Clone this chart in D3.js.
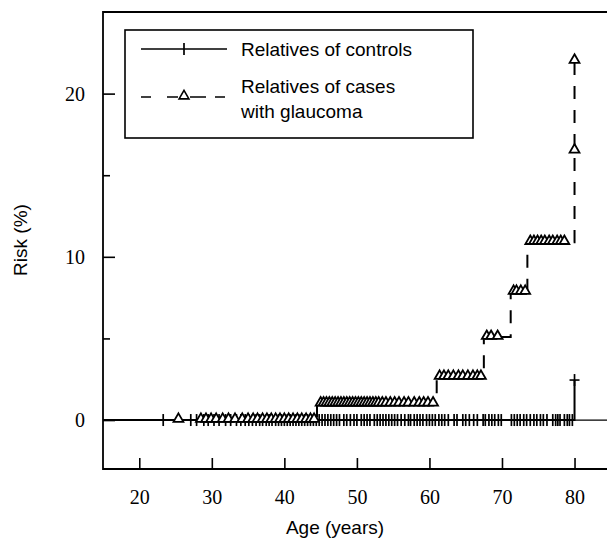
<!DOCTYPE html>
<html>
<head>
<meta charset="utf-8">
<script src="https://cdn.jsdelivr.net/npm/d3@7"></script>
<style>
  html, body { margin: 0; padding: 0; background: #fff; }
  svg { display: block; }
</style>
</head>
<body>
<svg id="chart" width="607" height="543"></svg>
<script>
// Cumulative risk of glaucoma by age (Kaplan-Meier style steps)
const xTicks = [20, 30, 40, 50, 60, 70, 80];
const yTicks = [0, 10, 20];
const yMinorTicks = [5, 15];

// Step curve corner points [age, risk %]
const controlSteps = [[15, 0], [80, 0], [80, 2.45]];
const caseSteps = [
  [25, 0], [44.5, 0], [44.5, 1.0], [61, 1.0], [61, 2.63], [67.5, 2.63],
  [67.5, 5.08], [71.2, 5.08], [71.2, 7.84], [73.5, 7.84], [73.5, 10.9],
  [80, 10.9], [80, 22.0]
];

// Censored observations, relatives of controls (all at 0 % until 80)
const controlCensorAges = [
  23.3, 27.1, 27.9, 28.9, 29.5, 30.3, 31.0, 31.9, 32.6, 33.4, 34.0, 34.6,
  35.1, 35.6, 36.1, 36.6, 37.0, 37.5, 37.9, 38.3, 38.8, 39.2, 39.6, 40.0,
  40.4, 40.8, 41.2, 41.6, 42.0, 42.4, 42.8, 43.2, 43.6, 44.0, 44.4, 44.8,
  45.2, 45.6, 46.0, 46.4, 46.8, 47.2, 47.6, 48.2, 48.6, 49.1, 49.6, 50.0,
  50.6, 51.0, 51.4, 51.8, 52.4, 52.8, 53.2, 53.6, 54.0, 54.4, 54.8, 55.2,
  55.6, 56.1, 56.6, 57.1, 57.4, 57.9, 58.3, 58.7, 59.1, 59.6, 60.0, 60.4,
  60.8, 61.3, 61.7, 62.1, 62.6, 63.4, 63.8, 64.6, 65.0, 65.5, 66.1, 66.6,
  67.4, 67.7, 68.2, 68.6, 69.0, 69.5, 69.9, 71.3, 71.7, 72.1, 72.5, 73.0,
  73.4, 73.9, 74.4, 74.8, 75.3, 75.7, 76.2, 77.0, 77.4, 77.7, 78.0, 78.6,
  79.0, 79.3, 79.7
];
const controlCensorRisk = [[80, 2.45]];

// Censored observations, relatives of cases [age, risk %]
const caseCensor0 = [25.4, 28.5, 29.2, 29.9, 30.6, 31.5, 32.3, 33.2, 34.2, 35.0,
  35.7, 36.3, 37.0, 37.6, 38.2, 38.8, 39.4, 40.0, 40.6, 41.2, 41.8, 42.4, 43.0,
  43.6, 44.1];
const caseCensor1 = [45.0, 45.4, 45.8, 46.2, 46.6, 47.0, 47.4, 47.8, 48.2, 48.6,
  49.0, 49.4, 49.8, 50.2, 50.6, 51.0, 51.4, 51.8, 52.2, 52.6, 53.0, 53.5, 54.0,
  54.6, 55.2, 55.8, 56.5, 57.1, 57.9, 58.6, 59.2, 59.8, 60.5];
const caseCensor2 = [61.4, 62.0, 62.6, 63.3, 64.0, 64.6, 65.3, 66.0, 66.6, 67.1];
const caseCensor3 = [67.9, 68.5, 69.4];
const caseCensor4 = [71.6, 72.0, 72.6, 73.2];
const caseCensor5 = [73.9, 74.4, 74.9, 75.4, 75.9, 76.5, 77.0, 77.6, 78.1, 78.6];
const caseCensorTop = [[80, 16.5], [80, 22.0]];
const caseLevels = [0, 1.0, 2.63, 5.08, 7.84, 10.9];

const legendLabels = [["Relatives of controls"], ["Relatives of cases", "with glaucoma"]];

const svg = d3.select("#chart");
const x = d3.scaleLinear().domain([15, 85]).range([103, 610.8]);
const y = d3.scaleLinear().domain([-3, 25]).range([469, 12]);

const serif = "'Liberation Serif', 'Times New Roman', serif";
const sans = "'Liberation Sans', Arial, sans-serif";

// Frame (right side runs past the visible area)
svg.append("path")
  .attr("d", `M${x(85) + 5},${y(25)}H${x(15)}V${y(-3)}H${x(85) + 5}`)
  .attr("fill", "none").attr("stroke", "#000").attr("stroke-width", 1.8);

// Axes with inward ticks
const gx = svg.append("g").attr("transform", `translate(0,${y(-3)})`)
  .call(d3.axisBottom(x).tickValues(xTicks).tickSize(-11).tickPadding(21));
const gy = svg.append("g").attr("transform", `translate(${x(15)},0)`)
  .call(d3.axisLeft(y).tickValues(yTicks).tickSize(-12).tickPadding(18));
const gyMinor = svg.append("g").attr("transform", `translate(${x(15)},0)`)
  .call(d3.axisLeft(y).tickValues(yMinorTicks).tickSize(-7).tickFormat(""));
[gx, gy, gyMinor].forEach(g => {
  g.select(".domain").remove();
  g.selectAll(".tick line").attr("stroke", "#000").attr("stroke-width", 1.6);
  g.selectAll("text").attr("font-family", serif).attr("font-size", 20).attr("fill", "#000");
});

// Zero reference line
svg.append("line")
  .attr("x1", x(15)).attr("x2", x(85)).attr("y1", y(0)).attr("y2", y(0))
  .attr("stroke", "#000").attr("stroke-width", 1.2);

const line = d3.line().x(d => x(d[0])).y(d => y(d[1]));

// Relatives of controls: solid step curve with tick censor marks
svg.append("path").datum(controlSteps).attr("d", line)
  .attr("fill", "none").attr("stroke", "#000").attr("stroke-width", 2);
const tickMark = (g, px, py) => g.append("line")
  .attr("x1", px).attr("x2", px).attr("y1", py - 6).attr("y2", py + 6)
  .attr("stroke", "#000").attr("stroke-width", 1.7);
const gc = svg.append("g");
controlCensorAges.forEach(a => tickMark(gc, x(a), y(0)));
controlCensorRisk.forEach(d => {
  tickMark(gc, x(d[0]), y(d[1]));
  gc.append("line").attr("x1", x(d[0]) - 5).attr("x2", x(d[0]) + 5)
    .attr("y1", y(d[1])).attr("y2", y(d[1])).attr("stroke", "#000").attr("stroke-width", 1.6);
});

// Relatives of cases: dashed step curve with open triangles
svg.append("path").datum(caseSteps).attr("d", line)
  .attr("fill", "none").attr("stroke", "#000").attr("stroke-width", 2)
  .attr("stroke-dasharray", "13,11");
const tri = d3.symbol().type(d3.symbolTriangle).size(42);
const caseCensor = [caseCensor0, caseCensor1, caseCensor2, caseCensor3, caseCensor4, caseCensor5]
  .flatMap((ages, i) => ages.map(a => [a, caseLevels[i]]))
  .concat(caseCensorTop);
svg.append("g").selectAll("path").data(caseCensor).join("path")
  .attr("d", tri)
  .attr("transform", d => `translate(${x(d[0])},${y(d[1]) - 1})`)
  .attr("fill", "#fff").attr("stroke", "#000").attr("stroke-width", 1.8);

// Legend
const lg = svg.append("g");
lg.append("rect").attr("x", 125).attr("y", 30).attr("width", 348).attr("height", 108)
  .attr("fill", "#fff").attr("stroke", "#000").attr("stroke-width", 1.6);
lg.append("line").attr("x1", 141).attr("x2", 227).attr("y1", 49).attr("y2", 49)
  .attr("stroke", "#000").attr("stroke-width", 1.4);
tickMark(lg, 184, 49);
lg.append("line").attr("x1", 141).attr("x2", 228).attr("y1", 97).attr("y2", 97)
  .attr("stroke", "#000").attr("stroke-width", 1.4).attr("stroke-dasharray", "10,16,11,12,16,9,10");
lg.append("path").attr("d", tri).attr("transform", "translate(184,96)")
  .attr("fill", "#fff").attr("stroke", "#000").attr("stroke-width", 1.6);
const lt = lg.append("g").attr("font-family", sans).attr("font-size", 19).attr("fill", "#000");
lt.append("text").attr("x", 241).attr("y", 56).text(legendLabels[0][0]);
lt.append("text").attr("x", 241).attr("y", 93).text(legendLabels[1][0]);
lt.append("text").attr("x", 241).attr("y", 118).text(legendLabels[1][1]);

// Axis titles
svg.append("text").attr("x", 335).attr("y", 534).attr("text-anchor", "middle")
  .attr("font-family", sans).attr("font-size", 19).text("Age (years)");
svg.append("text").attr("transform", "translate(27,240) rotate(-90)")
  .attr("text-anchor", "middle").attr("font-family", sans).attr("font-size", 19)
  .text("Risk (%)");
</script>
</body>
</html>
